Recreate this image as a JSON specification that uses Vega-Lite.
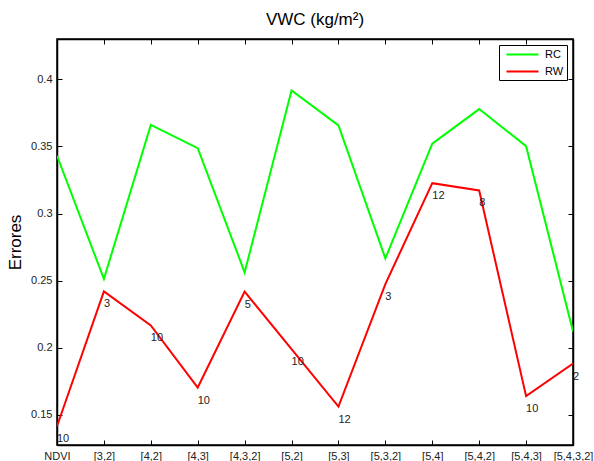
{
  "$schema": "https://vega.github.io/schema/vega-lite/v6.json",
  "width": 516,
  "height": 406,
  "autosize": {"type": "none"},
  "padding": {"left": 57, "top": 39, "right": 21, "bottom": 16},
  "background": "white",
  "title": {"text": "VWC (kg/m²)", "fontSize": 17, "fontWeight": "normal", "font": "Liberation Sans", "color": "black", "anchor": "middle", "frame": "group", "offset": 10},
  "config": {
    "view": {"stroke": "black", "strokeWidth": 1.5},
    "font": "Liberation Sans",
    "axis": {"domainColor": "black", "tickColor": "black", "labelColor": "#222", "grid": false, "labelFont": "Liberation Sans", "labelFontSize": 11, "tickSize": -5, "domainWidth": 1.5}
  },
  "data": {"values": [
    {"combo": "NDVI", "serie": "RC", "value": 0.343},
    {"combo": "[3,2]", "serie": "RC", "value": 0.2513},
    {"combo": "[4,2]", "serie": "RC", "value": 0.366},
    {"combo": "[4,3]", "serie": "RC", "value": 0.3487},
    {"combo": "[4,3,2]", "serie": "RC", "value": 0.2562},
    {"combo": "[5,2]", "serie": "RC", "value": 0.3916},
    {"combo": "[5,3]", "serie": "RC", "value": 0.3657},
    {"combo": "[5,3,2]", "serie": "RC", "value": 0.2666},
    {"combo": "[5,4]", "serie": "RC", "value": 0.352},
    {"combo": "[5,4,2]", "serie": "RC", "value": 0.3778},
    {"combo": "[5,4,3]", "serie": "RC", "value": 0.3502},
    {"combo": "[5,4,3,2]", "serie": "RC", "value": 0.2122},
    {"combo": "NDVI", "serie": "RW", "value": 0.1416, "label": "10"},
    {"combo": "[3,2]", "serie": "RW", "value": 0.242, "label": "3"},
    {"combo": "[4,2]", "serie": "RW", "value": 0.2167, "label": "10"},
    {"combo": "[4,3]", "serie": "RW", "value": 0.1704, "label": "10"},
    {"combo": "[4,3,2]", "serie": "RW", "value": 0.2418, "label": "5"},
    {"combo": "[5,2]", "serie": "RW", "value": 0.199, "label": "10"},
    {"combo": "[5,3]", "serie": "RW", "value": 0.1562, "label": "12"},
    {"combo": "[5,3,2]", "serie": "RW", "value": 0.2475, "label": "3"},
    {"combo": "[5,4]", "serie": "RW", "value": 0.3226, "label": "12"},
    {"combo": "[5,4,2]", "serie": "RW", "value": 0.3172, "label": "8"},
    {"combo": "[5,4,3]", "serie": "RW", "value": 0.164, "label": "10"},
    {"combo": "[5,4,3,2]", "serie": "RW", "value": 0.1883, "label": "2"}
  ]},
  "encoding": {
    "x": {"field": "combo", "type": "ordinal", "sort": null, "scale": {"type": "point", "padding": 0}},
    "y": {"field": "value", "type": "quantitative", "scale": {"domain": [0.1276, 0.43], "nice": false, "zero": false}}
  },
  "layer": [
    {
      "mark": {"type": "line", "strokeWidth": 2, "clip": true},
      "encoding": {
        "x": {"field": "combo", "type": "ordinal", "sort": null, "scale": {"type": "point", "padding": 0},
              "axis": {"title": null, "labelAngle": 0, "labelPadding": 10.5, "domain": true}},
        "y": {"field": "value", "type": "quantitative", "scale": {"domain": [0.1276, 0.43], "nice": false, "zero": false},
              "axis": {"title": "Errores", "titleFontSize": 17, "titleFontWeight": "normal", "titleColor": "black", "titlePadding": 6, "values": [0.15, 0.2, 0.25, 0.3, 0.35, 0.4], "format": ".2~f", "labelPadding": 10}},
        "color": {"field": "serie", "type": "nominal",
                  "scale": {"domain": ["RC", "RW"], "range": ["#00ff00", "#ff0000"]},
                  "legend": {"title": null, "orient": "top-right", "offset": 6, "symbolType": "M-3,0H3", "symbolSize": 114, "symbolStrokeWidth": 2, "symbolOffset": 14, "strokeColor": "black", "fillColor": "white", "padding": 3, "labelFontSize": 11, "labelColor": "black", "rowPadding": 5, "labelOffset": 16}}
      }
    },
    {
      "mark": {"type": "line", "strokeWidth": 0, "opacity": 0},
      "encoding": {
        "x": {"field": "combo", "type": "ordinal", "sort": null, "axis": {"orient": "top", "labels": false, "title": null, "domain": true}},
        "y": {"field": "value", "type": "quantitative", "axis": {"orient": "right", "labels": false, "title": null, "values": [0.15, 0.2, 0.25, 0.3, 0.35, 0.4]}}
      }
    },
    {
      "transform": [{"filter": "datum.serie === 'RW'"}],
      "mark": {"type": "text", "align": "left", "baseline": "middle", "dy": 13, "fontSize": 11, "color": "#222"},
      "encoding": {
        "x": {"field": "combo", "type": "ordinal", "sort": null, "axis": null},
        "y": {"field": "value", "type": "quantitative", "axis": null},
        "text": {"field": "label"}
      }
    }
  ],
  "resolve": {"axis": {"x": "independent", "y": "independent"}}
}
